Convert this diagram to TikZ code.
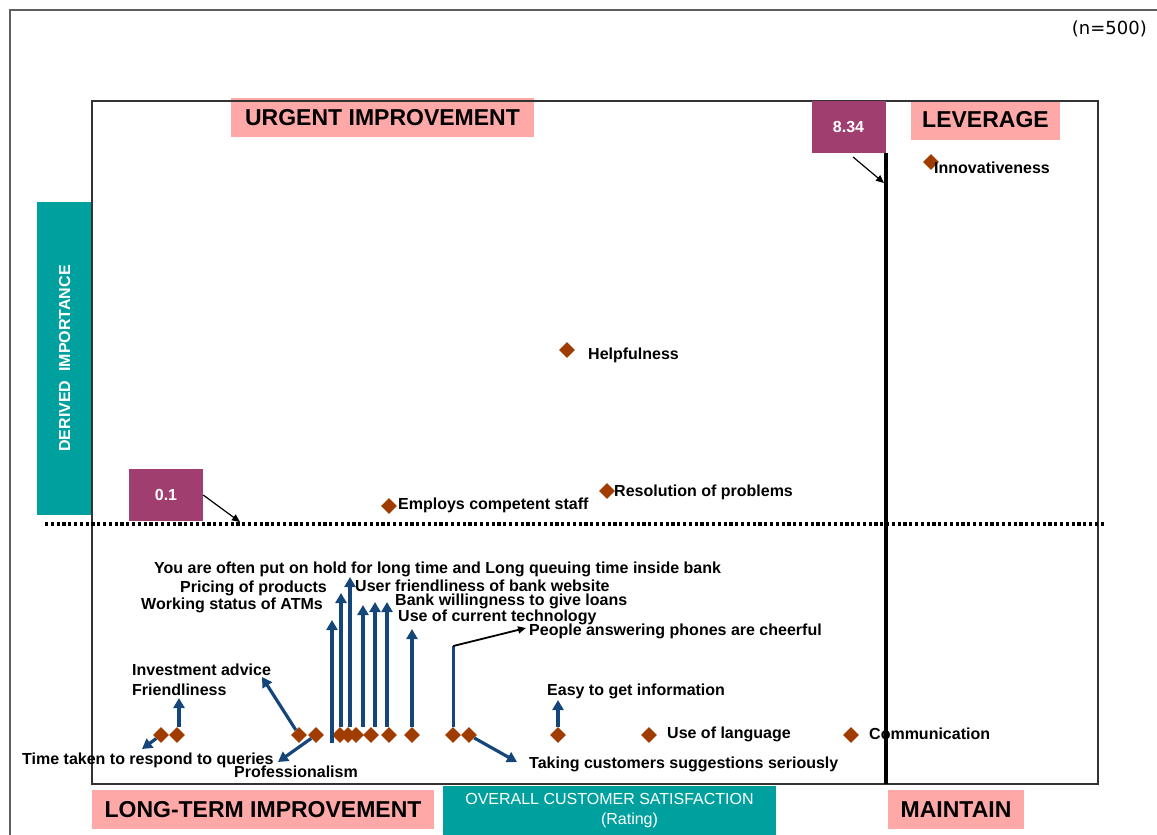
\documentclass[tikz,border=0pt]{standalone}
\usepackage{fontspec}
\setmainfont{Liberation Sans}
\newfontfamily\dejavu{DejaVu Sans}
\usetikzlibrary{shapes.geometric,arrows.meta}

\definecolor{quadpink}{RGB}{255,168,168}
\definecolor{axisteal}{RGB}{0,160,158}
\definecolor{valpurple}{RGB}{160,62,112}
\definecolor{markbrown}{RGB}{160,60,0}
\definecolor{arrowblue}{RGB}{20,70,122}
\definecolor{framegray}{RGB}{95,95,95}

\tikzset{
  lbl/.style={font=\fontsize{16}{18}\selectfont\bfseries, anchor=base west, inner sep=0pt},
  head/.style={fill=quadpink, font=\fontsize{23}{26}\selectfont\bfseries, inner sep=0pt, minimum height=39pt},
  axisbox/.style={fill=axisteal, text=white, inner sep=0pt, font=\fontsize{16}{20}\selectfont},
  valbox/.style={fill=valpurple, text=white, inner sep=0pt, minimum width=74pt, minimum height=52pt,
    font=\fontsize{16}{18}\selectfont\bfseries},
  pt/.style={diamond, fill=markbrown, inner sep=0pt, minimum width=16pt, minimum height=16pt},
  bluearrow/.style={draw=arrowblue, line width=3.2pt, -{Triangle[width=11pt,length=10pt]}},
  thinarrow/.style={draw=black, line width=1.2pt, -{Triangle[width=7pt,length=8pt]}},
}

\begin{document}
\begin{tikzpicture}[x=1pt,y=-1pt]
    \useasboundingbox (0,0) rectangle (1157,835);

    % Outer frame and sample size
    \draw[framegray, line width=1.5pt] (10,835) -- (10,10) -- (1157,10);
    \node[font=\dejavu\fontsize{18}{20}\selectfont, anchor=east, inner sep=0pt] (nsize) at (1147,29) {(n=500)};

    % Axis titles
    \node[axisbox, rotate=90, minimum width=313pt, minimum height=55pt, font=\fontsize{16}{18}\selectfont\bfseries]
        (yaxis) at (64.5,358.5) {DERIVED\ \ IMPORTANCE};
    \node[axisbox, minimum width=333pt, minimum height=49pt, align=center]
        (xaxis) at (609.5,810.5) {OVERALL CUSTOMER SATISFACTION\\\hspace*{40pt}(Rating)};

    % Quadrant names
    \node[head, minimum width=303pt] (urgent) at (382.5,117.5) {URGENT IMPROVEMENT};
    \node[head, minimum width=149pt] (leverage) at (985.5,120) {LEVERAGE};
    \node[head, minimum width=342pt] (longterm) at (263,809.5) {LONG-TERM IMPROVEMENT};
    \node[head, minimum width=136pt] (maintain) at (956,809.5) {MAINTAIN};

    % Plot frame
    \draw[black!80, line width=1.2pt] (92,101) rectangle (1098,784);

    % Cut-off lines
    \draw[line width=3.2pt, dash pattern=on 3.2pt off 2.6pt] (45,524) -- (1105,524);
    \draw[line width=3.8pt] (886,153) -- (886,784);

    % Cut-off values
    \node[valbox] (vx) at (848.5,127) {8.34};
    \node[valbox] (vy) at (166,495) {0.1};
    \coordinate (vxtip) at (884,183);
    \coordinate (vytip) at (240,522);
    \draw[thinarrow, shorten <=6pt] (vx.south) -- (vxtip);
    \draw[thinarrow] (vy.east) -- (vytip);

    % Attributes
    \node[pt] (innov) at (931,162) {};
    \node[pt] (helpful) at (567,350) {};
    \node[pt] (resol) at (607,491) {};
    \node[pt] (employ) at (389,506) {};
    \foreach \x [count=\i] in {161,177,299,316,340,348,356,371,389,412,453,469,558,649,851}
        \node[pt] (r\i) at (\x,735) {};

    % Pointers to labels
    \foreach \tx/\ty/\from in {332/620/r5.south, 341/593/r5.north, 350/577/r6.north, 363/605/r7.north,
                               375/602/r8.north, 387/602/r9.north, 412/629/r10.north} {
        \coordinate (up) at (\tx,\ty);
        \draw[bluearrow] (up |- \from) -- (up);
    }
    \coordinate (ttime) at (142,749);
    \coordinate (tfriend) at (179,698);
    \coordinate (tinvest) at (262,677);
    \coordinate (tprof) at (278,762);
    \coordinate (bend) at (453.3,646);
    \coordinate (tcheer) at (526,628);
    \coordinate (ttaking) at (517,762);
    \coordinate (teasy) at (558,700);
    \draw[bluearrow] (r1) -- (ttime);
    \draw[bluearrow] (tfriend |- r2.north) -- (tfriend);
    \draw[bluearrow] (r3) -- (tinvest);
    \draw[bluearrow] (r4) -- (tprof);
    \draw[bluearrow, -] (bend |- r11.north) -- (bend);
    \draw[thinarrow, line width=1.8pt] (bend) -- (tcheer);
    \draw[bluearrow] (r12) -- (ttaking);
    \draw[bluearrow] (r13.north) -- (teasy);

    % Labels
    \node[lbl] (lhold) at (154,573) {You are often put on hold for long time and Long queuing time inside bank};
    \node[lbl] (lpricing) at (180,592) {Pricing of products};
    \node[lbl] (lwebsite) at (355,591) {User friendliness of bank website};
    \node[lbl] (latm) at (141,609) {Working status of ATMs};
    \node[lbl] (lloans) at (395,605) {Bank willingness to give loans};
    \node[lbl] (ltech) at (398,621) {Use of current technology};
    \node[lbl] (lcheer) at (529,635) {People answering phones are cheerful};
    \node[lbl] (linvest) at (132,675) {Investment advice};
    \node[lbl] (lfriend) at (132,695) {Friendliness};
    \node[lbl] (leasy) at (547,695) {Easy to get information};
    \node[lbl] (llang) at (667,738) {Use of language};
    \node[lbl] (lcomm) at (869,739) {Communication};
    \node[lbl] (ltime) at (22,764) {Time taken to respond to queries};
    \node[lbl] (lprof) at (234,777) {Professionalism};
    \node[lbl] (ltaking) at (529,768) {Taking customers suggestions seriously};
    \node[lbl] (lemploy) at (398,509) {Employs competent staff};
    \node[lbl] (lresol) at (614,496) {Resolution of problems};
    \node[lbl] (lhelpful) at (588,359) {Helpfulness};
    \node[lbl] (linnov) at (934,173) {Innovativeness};
\end{tikzpicture}
\end{document}
